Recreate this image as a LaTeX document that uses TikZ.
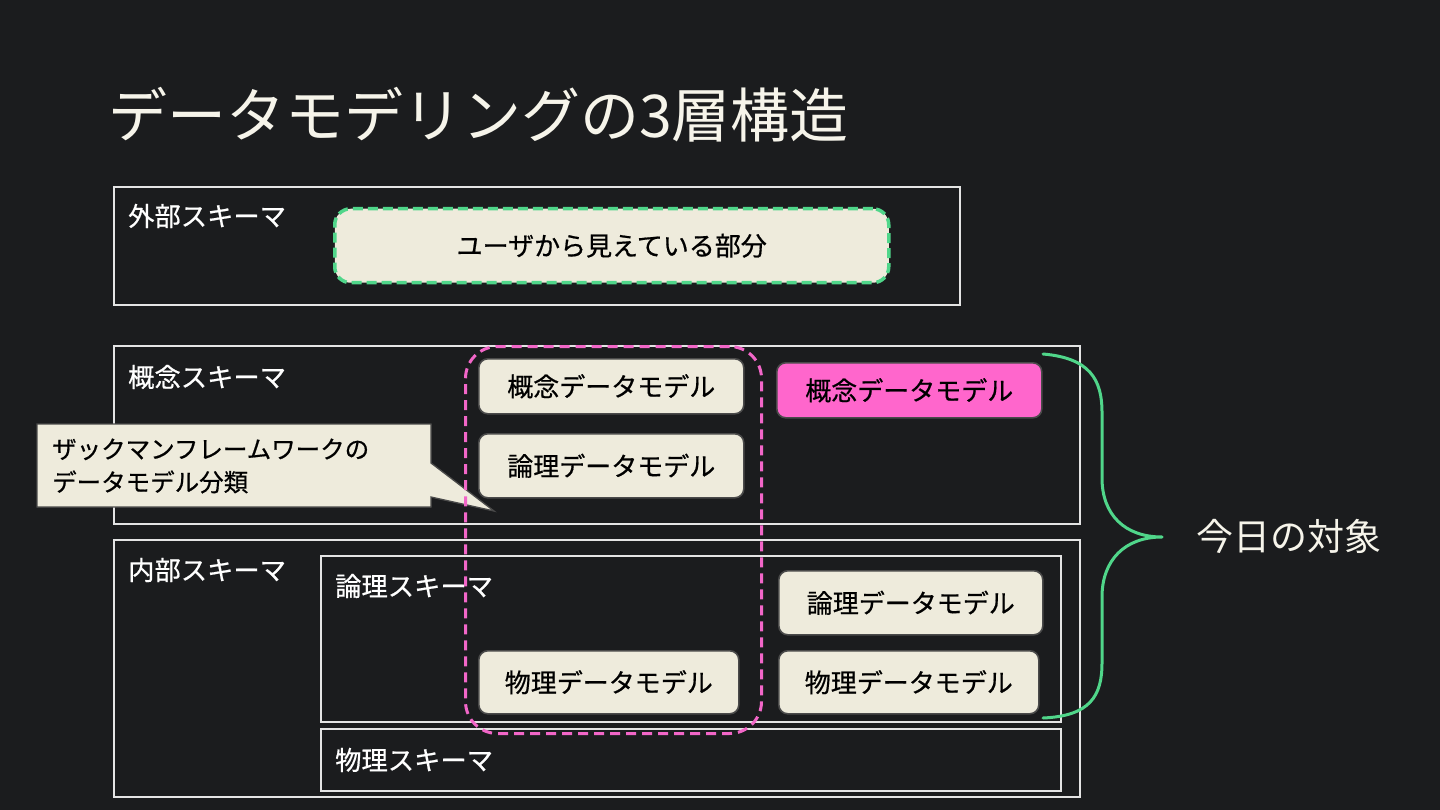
\documentclass[tikz,border=0pt]{standalone}
\usepackage{fontspec}
\setmainfont{Noto Sans CJK JP}
\newfontfamily\medjp{Noto Sans CJK JP}[FakeBold=0.6]
\definecolor{bg}{HTML}{1B1C1E}
\definecolor{cream}{HTML}{EEEBDC}
\definecolor{boxedge}{HTML}{4A4A4A}
\definecolor{grn}{HTML}{50D68A}
\definecolor{pnk}{HTML}{F266C8}
\definecolor{pinkfill}{HTML}{FF66CC}
\definecolor{titlec}{HTML}{F6F4EA}
\definecolor{schemaedge}{HTML}{E4E4E4}
\begin{document}
\begin{tikzpicture}[x=1pt,y=-1pt,
  schemabox/.style={draw=schemaedge, line width=1.6pt, anchor=north west, inner sep=0pt},
  modelbox/.style={draw=boxedge, line width=1.6pt, fill=cream, rounded corners=9pt,
    anchor=north west, inner sep=0pt, text=black, font=\medjp\fontsize{26}{30}\selectfont},
  lbl/.style={anchor=west, inner sep=0pt, text=white, font=\medjp\fontsize{26.3}{30}\selectfont},
]
\fill[bg] (0,0) rectangle (1440,810);
\useasboundingbox (0,0) rectangle (1440,810);

% title
\node[anchor=west, inner sep=0pt, text=titlec, font=\fontsize{59}{64}\selectfont] (title) at (108,115) {データモデリングの3層構造};

% schema frames
\node[schemabox, minimum width=846pt, minimum height=118pt] (ext) at (113,186) {};
\node[schemabox, minimum width=966pt, minimum height=178pt] (con) at (113,345) {};
\node[schemabox, minimum width=966pt, minimum height=257pt] (int) at (113,539) {};
\node[schemabox, minimum width=740pt, minimum height=166pt] (log) at (320,555) {};
\node[schemabox, minimum width=740pt, minimum height=62pt] (phy) at (320,728) {};

\node[lbl] (extl) at (128,216) {外部スキーマ};
\node[lbl] (conl) at (128,377) {概念スキーマ};
\node[lbl] (intl) at (128,570) {内部スキーマ};
\node[lbl] (logl) at (335,586) {論理スキーマ};
\node[lbl] (phyl) at (335,760) {物理スキーマ};

% user box
\node[modelbox, draw=grn, line width=3.5pt, dash pattern=on 10pt off 5pt, rounded corners=16pt,
  minimum width=554pt, minimum height=74pt] (user) at (333,207) {ユーザから見えている部分};

% model boxes
\node[modelbox, minimum width=265pt, minimum height=55pt] (zcon) at (478,358) {概念データモデル};
\node[modelbox, minimum width=265pt, minimum height=64pt] (zlog) at (478,433) {論理データモデル};
\node[modelbox, minimum width=260pt, minimum height=63pt] (zphy) at (478,650) {物理データモデル};
\node[modelbox, fill=pinkfill, minimum width=265pt, minimum height=55pt] (tcon) at (776,362) {概念データモデル};
\node[modelbox, minimum width=264pt, minimum height=64pt] (tlog) at (778,570) {論理データモデル};
\node[modelbox, minimum width=260pt, minimum height=63pt] (tphy) at (778,650) {物理データモデル};

% callout
\coordinate (tip) at (494,511);
\draw[fill=cream, draw=boxedge, line width=1.3pt] (37,424) -- (431,424) -- (431,463) -- (tip) -- (431,497) -- (431,507) -- (37,507) -- cycle;
\node[anchor=west, align=left, inner sep=0pt, text=black, font=\medjp\fontsize{24.5}{33}\selectfont] (calltext) at (52,466) {ザックマンフレームワークの\\データモデル分類};

% Zachman dashed frame
\node[draw=pnk, line width=3pt, dash pattern=on 10pt off 6pt, rounded corners=32pt,
  anchor=north west, inner sep=0pt, minimum width=296pt, minimum height=387pt] (zach) at (464,345) {};

% brace
\coordinate (btop) at (1043,354);
\coordinate (btip) at (1162,537);
\coordinate (bbot) at (1043,718);
\draw[grn, line width=3pt, line cap=round, line join=round]
  (btop) .. controls (1090,358) and (1102,380) .. (1102,412) -- (1102,478)
  .. controls (1102,515) and (1125,537) .. (btip)
  .. controls (1125,537) and (1102,560) .. (1102,597) -- (1102,663)
  .. controls (1102,696) and (1090,716) .. (bbot);

\node[anchor=west, inner sep=0pt, text=titlec, font=\fontsize{37}{40}\selectfont] (today) at (1196,536) {今日の対象};
\end{tikzpicture}
\end{document}
